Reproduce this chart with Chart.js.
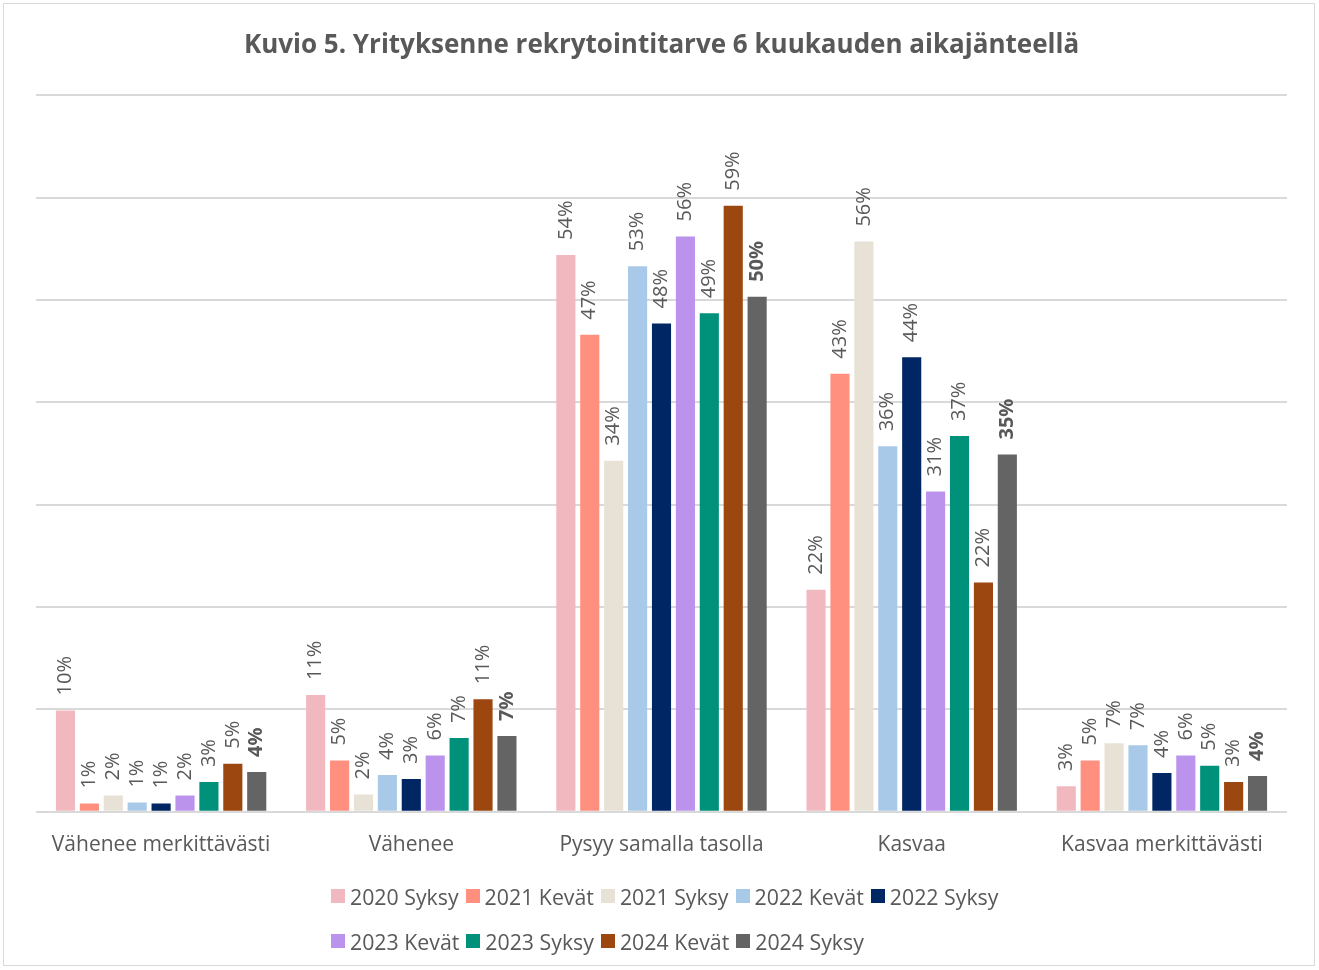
<!DOCTYPE html>
<html lang="fi">
<head>
<meta charset="utf-8">
<title>Kuvio 5</title>
<script src="https://cdn.jsdelivr.net/npm/chart.js@4"></script>
<style>
	body { margin: 0; background: #fff; font-family: "Open Sans", "Noto Sans", sans-serif; }
	#frame { position: absolute; left: 3px; top: 3px; width: 1312px; height: 963px; border: 1px solid #d9d9d9; box-sizing: border-box; }
	#wrap { position: absolute; left: 0; top: 0; width: 1319px; height: 886px; }
	#legend { position: absolute; left: 331px; top: 883px; width: 700px; display: flex; flex-wrap: wrap; row-gap: 19px; }
	.item { display: flex; align-items: center; font-size: 21.3px; color: #595959; margin-right: 7px; height: 26px; }
	.box { width: 14px; height: 14px; margin-right: 5px; }
</style>
</head>
<body>
<div id="frame"></div>
<div id="wrap"><canvas id="chart"></canvas></div>
<div id="legend"></div>
<script>
const categories = ['Vähenee merkittävästi', 'Vähenee', 'Pysyy samalla tasolla', 'Kasvaa', 'Kasvaa merkittävästi'];
const seriesNames = ['2020 Syksy', '2021 Kevät', '2021 Syksy', '2022 Kevät', '2022 Syksy', '2023 Kevät', '2023 Syksy', '2024 Kevät', '2024 Syksy'];
const seriesColors = ['#f2b8c0', '#ff9080', '#e8e2d6', '#a8cae8', '#002664', '#bc93ec', '#00917a', '#9c4610', '#646464'];

// values per series, in category order (%)
const s2020Syksy = [9.9, 11.4, 54.4, 21.7, 2.5];
const s2021Kevat = [0.8, 5.0, 46.6, 42.8, 5.0];
const s2021Syksy = [1.6, 1.7, 34.3, 55.7, 6.7];
const s2022Kevat = [0.9, 3.6, 53.3, 35.7, 6.5];
const s2022Syksy = [0.8, 3.2, 47.7, 44.4, 3.8];
const s2023Kevat = [1.6, 5.5, 56.2, 31.3, 5.5];
const s2023Syksy = [2.9, 7.2, 48.7, 36.7, 4.5];
const s2024Kevat = [4.7, 11.0, 59.2, 22.4, 2.9];
const s2024Syksy = [3.9, 7.4, 50.3, 34.9, 3.5];

const seriesValues = [s2020Syksy, s2021Kevat, s2021Syksy, s2022Kevat, s2022Syksy, s2023Kevat, s2023Syksy, s2024Kevat, s2024Syksy];

const textColor = '#595959';
const fontFamily = '"Open Sans", "Noto Sans", sans-serif';

// rotated value labels above each bar
const barLabels = {
	id: 'barLabels',
	afterDatasetsDraw(chart) {
		const ctx = chart.ctx;
		chart.data.datasets.forEach((ds, i) => {
			const meta = chart.getDatasetMeta(i);
			const bold = i === chart.data.datasets.length - 1;
			meta.data.forEach((bar, j) => {
				ctx.save();
				ctx.translate(bar.x, bar.y - 15);
				ctx.rotate(-Math.PI / 2);
				ctx.font = (bold ? 'bold ' : '') + '20px ' + fontFamily;
				ctx.fillStyle = textColor;
				ctx.textAlign = 'left';
				ctx.textBaseline = 'middle';
				ctx.fillText(Math.round(ds.data[j]) + '%', 0, 0);
				ctx.restore();
			});
		});
	}
};

const chart = new Chart(document.getElementById('chart'), {
	type: 'bar',
	data: {
		labels: categories,
		datasets: seriesNames.map((name, i) => ({
			label: name,
			data: seriesValues[i],
			backgroundColor: seriesColors[i],
			borderWidth: 0,
			categoryPercentage: 0.86,
			barPercentage: 0.8,
		}))
	},
	options: {
		responsive: true,
		maintainAspectRatio: false,
		animation: false,
		layout: { padding: { left: 36, right: 32, top: 0, bottom: 15 } },
		plugins: {
			legend: { display: false },
			tooltip: { enabled: false },
			title: {
				display: true,
				text: 'Kuvio 5. Yrityksenne rekrytointitarve 6 kuukauden aikajänteellä',
				color: textColor,
				font: { family: fontFamily, size: 26, weight: 'bold' },
				padding: { top: 30, bottom: 34 }
			}
		},
		scales: {
			x: {
				grid: { display: false },
				border: { display: false },
				ticks: { color: textColor, font: { family: fontFamily, size: 21 }, padding: 13 }
			},
			y: {
				min: 0,
				max: 70,
				ticks: { display: false, stepSize: 10 },
				grid: { color: '#d9d9d9', lineWidth: 2, drawTicks: false },
				border: { display: false }
			}
		}
	},
	plugins: [barLabels]
});

// legend as HTML so the rows wrap like the original
const legend = document.getElementById('legend');
seriesNames.forEach((name, i) => {
	const item = document.createElement('div');
	item.className = 'item';
	const box = document.createElement('span');
	box.className = 'box';
	box.style.background = seriesColors[i];
	item.appendChild(box);
	item.appendChild(document.createTextNode(name));
	legend.appendChild(item);
});
</script>
</body>
</html>
